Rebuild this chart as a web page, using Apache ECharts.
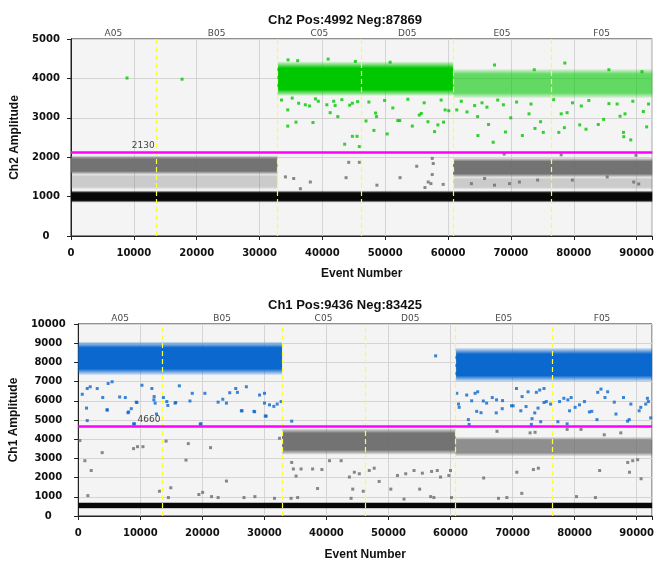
<!DOCTYPE html>
<html>
<head>
<meta charset="utf-8">
<script src="https://cdn.jsdelivr.net/npm/echarts@6/dist/echarts.min.js"></script>
<style>
  html, body { margin: 0; padding: 0; background: #fff; }
  #chart { width: 657px; height: 562px; }
</style>
</head>
<body>
<div id="chart"></div>
<script>
// wells and their event ranges (shared by both channels)
const wellNames = ["A05", "B05", "C05", "D05", "E05", "F05"];
const wellEdges = [0, 13500, 32850, 46200, 60800, 76350, 92500];
const xTicks = [0, 10000, 20000, 30000, 40000, 50000, 60000, 70000, 80000, 90000];

// Ch2
const ch2Pos = 4992;
const ch2Neg = 87869;
const ch2Threshold = 2130;
const ch2ThresholdLabelAt = 11500;
const ch2Ticks = [0, 1000, 2000, 3000, 4000, 5000];
// bands: [eventStart, eventEnd, ampLow, ampHigh]
const ch2BlackBand = [[0, 92500, 850, 1150]];
const ch2GrayBand = [[0, 32850, 1560, 2040], [60800, 92500, 1490, 1980]];
const ch2GrayHaze = [[0, 32850, 1180, 1580], [60800, 92500, 1180, 1500]];
const ch2GreenBand = [[32850, 60800, 3560, 4420]];
const ch2GreenHaze = [[60800, 92500, 3500, 4240]];
const ch2GreenDots = [
  [8910, 4010], [17670, 3980], [34490, 3200], [34490, 2790], [35800, 2890], [38500, 2880],
  [36230, 3370], [37290, 3330], [37970, 3300], [39350, 3420], [40710, 3330], [41240, 3130],
  [42030, 3310], [42450, 3030], [43550, 2330], [44770, 2530], [45510, 2530], [45880, 2270],
  [44350, 3320], [44770, 3370], [45610, 3410], [46940, 2920], [48200, 2680], [48460, 3120],
  [48620, 3030], [50310, 2590], [51210, 3250], [52000, 2930], [52310, 2930], [54310, 2790],
  [55420, 3070], [55740, 3110], [56800, 2900], [57850, 2650], [58380, 2820], [59280, 2890],
  [59530, 3200], [60110, 3180], [61380, 3200], [63010, 3150], [64230, 3310], [64700, 3030],
  [64750, 2550], [66180, 3270], [66440, 2830], [67180, 2380], [69130, 2640], [69970, 3000],
  [71820, 2550], [72880, 3100], [73830, 2730], [74720, 2900], [75150, 2630], [77620, 2630],
  [78510, 2750], [78000, 3100], [78940, 3130], [80950, 2820], [81950, 2710], [83900, 2830],
  [84750, 2960], [87910, 2630], [87960, 2520], [89070, 2440], [91600, 2770], [87370, 3040],
  [88160, 3100], [91070, 3160],
  [33500, 3450], [35200, 3500], [38900, 3480], [41800, 3420], [43100, 3460], [47400, 3400],
  [49900, 3440], [53600, 3470], [56200, 3380], [58900, 3450], [62100, 3420], [65400, 3380],
  [67900, 3450], [70900, 3400], [73200, 3350], [76800, 3460], [79800, 3380], [82400, 3440],
  [85600, 3360], [89400, 3420], [91900, 3350], [68800, 3330], [81200, 3300], [86900, 3350],
  [67390, 4340], [73720, 4220], [78580, 4390], [85590, 4220], [90860, 4170],
  [45250, 4430], [50780, 4410], [40920, 4490], [34540, 4470], [36070, 4450]
];
const ch2GrayDots = [
  [44190, 1870], [45880, 1870], [43770, 1480], [48680, 1290], [52360, 1480], [55010, 1770],
  [57480, 1970], [57640, 1840], [57480, 1560], [56840, 1370], [57270, 1330], [59220, 1310],
  [56320, 1230], [67390, 1290], [71350, 1370], [34120, 1500], [35440, 1460], [38080, 1370],
  [36500, 1200], [63710, 1330], [65810, 1460], [69770, 1330], [74250, 1420], [79780, 1420],
  [85320, 1500], [89540, 1370], [90330, 1320], [68930, 2080], [78000, 2060], [89900, 2050]
];

// Ch1
const ch1Pos = 9436;
const ch1Neg = 83425;
const ch1Threshold = 4660;
const ch1ThresholdLabelAt = 11400;
const ch1Ticks = [0, 1000, 2000, 3000, 4000, 5000, 6000, 7000, 8000, 9000, 10000];
const ch1BlackBand = [[0, 92500, 380, 720]];
const ch1BlueBand = [[0, 32850, 7350, 9080], [60800, 92500, 7000, 8750]];
const ch1GrayBand = [[32850, 60800, 3200, 4560]];
const ch1GrayHaze = [[60800, 92500, 3120, 4120]];
const ch1BlueDots = [
  [640, 6340], [1440, 6640], [1920, 6730], [1330, 5620], [1440, 4970], [3940, 6170],
  [4650, 5530], [3050, 6640], [4810, 6900], [5450, 6990], [6670, 6200], [7580, 6170],
  [8110, 5420], [8540, 5590], [9350, 5930], [9070, 4800], [10260, 6810], [11860, 6640],
  [12230, 6220], [12180, 6050], [12390, 5880], [12600, 5310], [13720, 6170], [14430, 5760],
  [15710, 5910], [16290, 6780], [18000, 5990], [18370, 6390], [19760, 4800], [20410, 6390],
  [22540, 5930], [23290, 6080], [23880, 5880], [25380, 6640], [25650, 6440], [26390, 5480],
  [28310, 5450], [29220, 6300], [30020, 6390], [30290, 5200], [30020, 5880], [30820, 5790],
  [31520, 5710], [32060, 5830], [32700, 5960], [34400, 4940], [9450, 5910], [14270, 5960],
  [15600, 5880], [24410, 6420], [27090, 6730], [8910, 4800], [19660, 4790], [30140, 5210],
  [8010, 5380], [4650, 5520], [26290, 5480], [28420, 5430], [57600, 8340],
  [61010, 6390], [61290, 5830], [61400, 5660], [62880, 5020], [63000, 4770], [62610, 6300],
  [63410, 6000], [63960, 6390], [64380, 6470], [64220, 5450], [64920, 5380], [65290, 5990],
  [65820, 5880], [66730, 6170], [67420, 6050], [67370, 5370], [68390, 6010], [68340, 5590],
  [69830, 5740], [70100, 5740], [70630, 6640], [71540, 6220], [71330, 5480], [72180, 5700],
  [73030, 4770], [73140, 5070], [73580, 5370], [74110, 5620], [72500, 6470], [73840, 6440],
  [74380, 6560], [75070, 6640], [74540, 4910], [75070, 5910], [75440, 5960], [76140, 5830],
  [77310, 4910], [77580, 5960], [78270, 6130], [78920, 6050], [79450, 6170], [78800, 4800],
  [79190, 5480], [80090, 5660], [80790, 5790], [81590, 5960], [82390, 5420], [82770, 5450],
  [83610, 5020], [84900, 6170], [86400, 5930], [86670, 5310], [83730, 6440], [84260, 6610],
  [85330, 6470], [88540, 4940], [88810, 5020], [87890, 6170], [89070, 5830], [90410, 5480],
  [90670, 5660], [91470, 5830], [91900, 5960], [92270, 5110], [91740, 6130]
];
const ch1GrayDots = [
  [260, 3930], [1060, 2880], [2080, 2370], [1540, 1060], [3850, 3300], [8910, 3510],
  [9550, 3610], [10420, 3610], [14150, 3900], [13080, 1290], [14910, 1470], [14520, 960],
  [17360, 2910], [17730, 3770], [21320, 3560], [19440, 1120], [20040, 1230], [21480, 1010],
  [23880, 1820], [22540, 960], [26710, 960], [28470, 1010], [31630, 920], [32430, 4050],
  [34400, 2790], [34670, 2450], [35110, 2080], [35910, 2450], [34300, 920], [35360, 960],
  [37770, 2450], [38570, 1430], [39270, 2420], [40490, 2880], [42370, 2880], [43700, 2030],
  [44500, 2280], [45300, 2200], [44240, 1400], [43970, 920], [45940, 1290], [46900, 2370],
  [47700, 2490], [48500, 1800], [50380, 1400], [51450, 2110], [52780, 2200], [52510, 880],
  [54120, 2370], [55460, 2230], [55030, 1400], [56950, 2320], [57870, 2370], [58400, 2030],
  [59730, 2110], [60000, 2370], [56800, 1010], [57320, 960], [60160, 960], [65340, 1980],
  [67490, 4410], [70690, 2280], [71490, 1180], [73360, 2420], [74160, 2490], [67740, 920],
  [69080, 960], [72830, 4330], [73630, 4360], [80310, 1010], [83360, 960], [84040, 2370],
  [88850, 2280], [88570, 2790], [89370, 2880], [90170, 2930], [90720, 1940], [78800, 4510],
  [81040, 4510], [84780, 4230], [87450, 4330]
];

const tickFont = { fontFamily: "DejaVu Sans", fontWeight: "bold", fontSize: 10, color: "#111" };
const nameFont = { fontFamily: "Liberation Sans", fontWeight: "bold", fontSize: 12, color: "#111" };
const smallFont = { fontFamily: "DejaVu Sans", fontSize: 9, color: "#111" };

function fade(rgb, a) {
    const c = o => "rgba(" + rgb.join(",") + "," + o + ")";
    return new echarts.graphic.LinearGradient(0, 0, 0, 1, [
        { offset: 0, color: c(a * 0.1) },
        { offset: 0.18, color: c(a) },
        { offset: 0.82, color: c(a) },
        { offset: 1, color: c(a * 0.1) }
    ]);
}

function bandSeries(data, rgb, alpha, gi, z) {
    return {
        type: "custom",
        xAxisIndex: gi * 2,
        yAxisIndex: gi * 2,
        z: z,
        silent: true,
        data: data,
        encode: { x: [0, 1], y: [2, 3] },
        renderItem: function (params, api) {
            const a = api.coord([api.value(0), api.value(3)]);
            const b = api.coord([api.value(1), api.value(2)]);
            const shape = echarts.graphic.clipRectByRect(
                { x: a[0], y: a[1], width: b[0] - a[0], height: b[1] - a[1] },
                {
                    x: params.coordSys.x,
                    y: params.coordSys.y,
                    width: params.coordSys.width,
                    height: params.coordSys.height
                }
            );
            return shape && { type: "rect", shape: shape, style: { fill: fade(rgb, alpha) } };
        }
    };
}

function dotSeries(data, color, gi, z) {
    return {
        type: "scatter",
        xAxisIndex: gi * 2,
        yAxisIndex: gi * 2,
        z: z,
        silent: true,
        symbol: "rect",
        symbolSize: 3,
        itemStyle: { color: color },
        data: data
    };
}

function overlaySeries(gi, yMax, threshold, labelAt) {
    const wellLabels = wellNames.map((n, i) => [(wellEdges[i] + wellEdges[i + 1]) / 2, yMax, n]);
    return [
        {
            type: "scatter",
            xAxisIndex: gi * 2,
            yAxisIndex: gi * 2,
            z: 10,
            silent: true,
            symbolSize: 0,
            data: wellLabels,
            label: {
                show: true,
                position: "top",
                distance: 1,
                formatter: p => p.value[2],
                ...smallFont
            },
            markLine: {
                silent: true,
                symbol: "none",
                label: { show: false },
                data: wellEdges.slice(1, -1).map(x => ({
                    xAxis: x,
                    lineStyle: { color: "#ffff33", width: 1.2, type: [5, 3] }
                })).concat([{
                    yAxis: threshold,
                    lineStyle: { color: "#ff00ff", width: 2.5, type: "solid" }
                }])
            }
        },
        {
            type: "scatter",
            xAxisIndex: gi * 2,
            yAxisIndex: gi * 2,
            z: 11,
            silent: true,
            symbolSize: 0,
            data: [[labelAt, threshold]],
            label: {
                show: true,
                position: "top",
                distance: 2,
                formatter: String(threshold),
                ...smallFont
            }
        }
    ];
}

function xAxes(gi) {
    return [
        {
            type: "value",
            gridIndex: gi,
            min: wellEdges[0],
            max: wellEdges[wellEdges.length - 1],
            interval: xTicks[1] - xTicks[0],
            name: "Event Number",
            nameLocation: "middle",
            nameGap: 32 + gi,
            nameTextStyle: nameFont,
            axisLine: { show: true, lineStyle: { color: "#222" } },
            axisTick: { show: true, length: 4, lineStyle: { color: "#222" } },
            axisLabel: { ...tickFont, margin: 12, showMaxLabel: false, formatter: v => String(v) },
            splitLine: { show: true, lineStyle: { color: "#d4d4d4" } }
        },
        {
            type: "value",
            gridIndex: gi,
            position: "top",
            min: wellEdges[0],
            max: wellEdges[wellEdges.length - 1],
            interval: xTicks[1] - xTicks[0],
            axisLine: { show: true, lineStyle: { color: "#222" } },
            axisTick: { show: true, inside: true, length: 4, lineStyle: { color: "#222" } },
            axisLabel: { show: false },
            splitLine: { show: false }
        }
    ];
}

function yAxes(gi, ticks, name, margin, nameGap) {
    return [
        {
            type: "value",
            gridIndex: gi,
            min: ticks[0],
            max: ticks[ticks.length - 1],
            interval: ticks[1] - ticks[0],
            name: name,
            nameLocation: "middle",
            nameGap: nameGap,
            nameTextStyle: nameFont,
            axisLine: { show: true, lineStyle: { color: "#222" } },
            axisTick: { show: true, length: 4, lineStyle: { color: "#222" } },
            axisLabel: { ...tickFont, align: "center", margin: margin, formatter: v => String(v) },
            splitLine: { show: true, lineStyle: { color: "#d4d4d4" } }
        },
        {
            type: "value",
            gridIndex: gi,
            position: "right",
            min: ticks[0],
            max: ticks[ticks.length - 1],
            interval: ticks[1] - ticks[0],
            axisLine: { show: true, lineStyle: { color: "#222" } },
            axisTick: { show: true, inside: true, length: 4, lineStyle: { color: "#222" } },
            axisLabel: { show: false },
            splitLine: { show: false }
        }
    ];
}

const GREEN = [0, 200, 0];
const GRAY = [108, 108, 108];
const BLACK = [8, 8, 8];
const BLUE = [10, 104, 206];

const chart = echarts.init(document.getElementById("chart"));
chart.setOption({
    animation: false,
    backgroundColor: "#ffffff",
    title: [
        {
            text: "Ch2 Pos:" + ch2Pos + " Neg:" + ch2Neg,
            left: 263,
            top: 9,
            textStyle: { fontFamily: "Liberation Sans", fontWeight: "bold", fontSize: 13, color: "#111" }
        },
        {
            text: "Ch1 Pos:" + ch1Pos + " Neg:" + ch1Neg,
            left: 263,
            top: 294,
            textStyle: { fontFamily: "Liberation Sans", fontWeight: "bold", fontSize: 13, color: "#111" }
        }
    ],
    grid: [
        { left: 71, top: 39, right: 2, height: 197, show: true, backgroundColor: "#f4f4f4", borderColor: "#222", borderWidth: 1 },
        { left: 78, top: 324, right: 2, height: 196, show: true, backgroundColor: "#f4f4f4", borderColor: "#222", borderWidth: 1 }
    ],
    xAxis: xAxes(0).concat(xAxes(1)),
    yAxis: yAxes(0, ch2Ticks, "Ch2 Amplitude", 25, 40).concat(yAxes(1, ch1Ticks, "Ch1 Amplitude", 30, 47)),
    series: [
        // Ch2
        bandSeries(ch2GrayHaze, GRAY, 0.3, 0, 2),
        bandSeries(ch2GrayBand, GRAY, 0.95, 0, 3),
        bandSeries(ch2BlackBand, BLACK, 1, 0, 3),
        bandSeries(ch2GreenHaze, GREEN, 0.6, 0, 3),
        bandSeries(ch2GreenBand, GREEN, 1, 0, 3),
        dotSeries(ch2GrayDots, "rgb(108,108,108)", 0, 4),
        dotSeries(ch2GreenDots, "rgb(0,200,0)", 0, 4),
        ...overlaySeries(0, ch2Ticks[ch2Ticks.length - 1], ch2Threshold, ch2ThresholdLabelAt),
        // Ch1
        bandSeries(ch1GrayHaze, GRAY, 0.75, 1, 3),
        bandSeries(ch1GrayBand, GRAY, 0.95, 1, 3),
        bandSeries(ch1BlackBand, BLACK, 1, 1, 3),
        bandSeries(ch1BlueBand, BLUE, 1, 1, 3),
        dotSeries(ch1GrayDots, "rgb(108,108,108)", 1, 4),
        dotSeries(ch1BlueDots, "rgb(10,104,206)", 1, 4),
        ...overlaySeries(1, ch1Ticks[ch1Ticks.length - 1], ch1Threshold, ch1ThresholdLabelAt)
    ]
});
</script>
</body>
</html>
